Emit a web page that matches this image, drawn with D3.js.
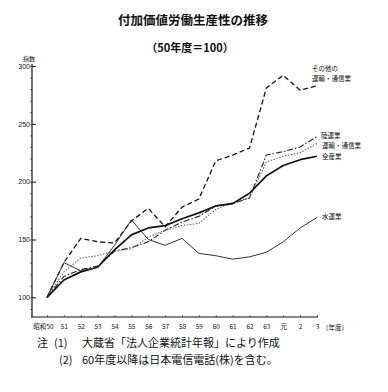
<!DOCTYPE html>
<html><head><meta charset="utf-8">
<script src="https://cdn.jsdelivr.net/npm/d3@7"></script>
<style>body{margin:0;background:#fff}svg{display:block}text{font-family:"Noto Sans CJK JP","Noto Sans",sans-serif;fill:#111}</style>
</head><body><svg id="c" width="388" height="392"></svg>
<script>
const years = ["50","51","52","53","54","55","56","57","58","59","60","61","62","63","元","2","3"];
const sonota = [100,130,151,148,147,166,177,161,178,185,218,223,229,281,292,279,283];
const rikuun = [100,118,124,127,140,143,148,158,165,170,179,181,186,223,226,230,239];
const unyu   = [100,122,134,136,140,142,152,158,162,164,176,182,186,217,222,225,233];
const zensan = [100,115,122,126,141,154,160,162,168,173,179,181,190,205,214,219,222];
const suiun  = [100,130,123,126,145,167,150,145,151,138,136,133,135,139,148,160,169];
const yTicks = [100,150,200,250,300];
const seriesNames = ["その他の運輸・通信業","陸運業","運輸・通信業","全産業","水運業"];

const svg = d3.select("#c");
const x = d3.scaleLinear().domain([0, years.length-1]).range([47, 317]);
const y = d3.scaleLinear().domain([83, 300]).range([317, 66]);

// titles
svg.append("text").attr("x",193).attr("y",25).attr("text-anchor","middle")
  .style("font-size","12.5px").style("font-weight","bold").text("付加価値労働生産性の推移");
svg.append("text").attr("x",190).attr("y",52).attr("text-anchor","middle")
  .style("font-size","11px").style("font-weight","bold").text("（50年度＝100）");
svg.append("text").attr("x",29).attr("y",61).attr("text-anchor","middle")
  .style("font-size","6px").text("指数");

// y axis
const yAx = svg.append("g").attr("transform","translate(32,0)")
  .call(d3.axisLeft(y).tickValues(yTicks).tickSize(-4).tickPadding(2).tickFormat(d3.format("d")));
yAx.select(".domain").remove();
yAx.selectAll("text").style("font-size","7px").style("font-family","Liberation Sans, sans-serif");
yAx.selectAll("line").attr("stroke","#111");
const yMinor = svg.append("g").attr("transform","translate(32,0)")
  .call(d3.axisLeft(y).tickValues(d3.range(90,301,10)).tickSize(2).tickFormat(""));
yMinor.select(".domain").remove();
yMinor.selectAll("line").attr("stroke","#444").attr("stroke-width",0.7);
svg.append("line").attr("x1",32).attr("x2",32).attr("y1",y(300)-2).attr("y2",317).attr("stroke","#111").attr("stroke-width",1.2);

// x axis
const xAx = svg.append("g").attr("transform","translate(0,317)")
  .call(d3.axisBottom(x).ticks(years.length).tickValues(d3.range(years.length)).tickSize(-2).tickPadding(7).tickFormat(i=>years[i]));
xAx.select(".domain").remove();
xAx.selectAll("line").attr("stroke","#444").attr("stroke-width",0.7);
xAx.selectAll("text").style("font-size","6.5px");
xAx.selectAll(".tick").filter(d=>d===0).select("text").attr("text-anchor","end").attr("dx","6").text("昭和50");
svg.append("line").attr("x1",31).attr("x2",318).attr("y1",317).attr("y2",317).attr("stroke","#111").attr("stroke-width",1.2);
svg.append("text").attr("x",322).attr("y",330).style("font-size","6.5px").text("（年度）");

// series
const line = d3.line().x((d,i)=>x(i)).y(d=>y(d));
const styles = [
  {data:sonota, dash:"5,3", w:1.3, c:"#111"},
  {data:rikuun, dash:"6,2,1.5,2", w:1.1, c:"#222"},
  {data:unyu, dash:"1.5,1.5", w:1.1, c:"#666"},
  {data:zensan, dash:null, w:1.7, c:"#111"},
  {data:suiun, dash:null, w:1, c:"#333"}
];
styles.forEach(s=>{
  svg.append("path").datum(s.data).attr("d",line).attr("fill","none")
    .attr("stroke",s.c).attr("stroke-width",s.w).attr("stroke-linejoin","round")
    .attr("stroke-dasharray",s.dash);
});

// series labels
const lab = (t,xx,yy)=>svg.append("text").attr("x",xx).attr("y",yy).style("font-size","6.5px").text(t);
lab("その他の",312,71);
lab("運輸・通信業",312,81);
lab(seriesNames[1],321,138);
lab(seriesNames[2],322,148);
lab(seriesNames[3],322,159);
lab(seriesNames[4],322,219);

// notes
const note = (t,xx,yy)=>svg.append("text").attr("x",xx).attr("y",yy).style("font-size","11px").text(t);
note("注",37,347);
note("(1)",54,347);
note("大蔵省「法人企業統計年報」により作成",82,347);
note("(2)",59,364);
note("60年度以降は日本電信電話(株)を含む。",82,364);
</script></body></html>
